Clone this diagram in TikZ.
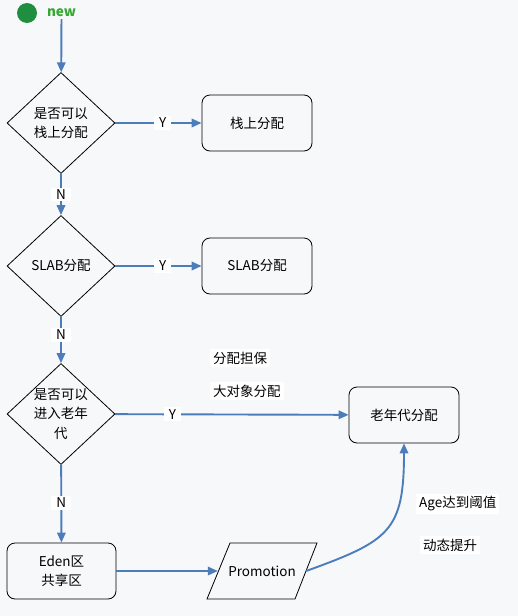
\documentclass[tikz,border=0pt]{standalone}
\usepackage{fontspec}
\newfontfamily\cjk{Noto Sans CJK SC}
\usetikzlibrary{shapes.geometric,arrows.meta}
\definecolor{bgpaper}{RGB}{247,248,250}
\definecolor{flowblue}{RGB}{77,124,186}
\definecolor{startgreen}{RGB}{31,143,63}
\definecolor{newgreen}{RGB}{54,168,50}
\tikzset{
  every node/.style={font=\cjk\fontsize{13.5}{19.5}\selectfont},
  decision/.style={diamond, draw, line width=0.8pt, inner sep=0pt,
    minimum width=108pt, minimum height=101pt, align=center},
  action/.style={rectangle, rounded corners=8pt, draw, line width=0.8pt,
    minimum width=110pt, minimum height=56pt, align=center},
  flow/.style={draw=flowblue, line width=1.9pt,
    -{Triangle[length=10pt,width=8.5pt]}},
  yn/.style={fill=white, inner xsep=5pt, inner ysep=2pt},
  note/.style={fill=white, inner sep=3pt, anchor=west}
}
\begin{document}
\begin{tikzpicture}[x=1pt,y=1pt]
    \path[fill=bgpaper,use as bounding box] (0,0) rectangle (518,-616);
    \node[circle, fill=startgreen, minimum size=20pt, inner sep=0pt] (start) at (27,-13) {};
    \node[text=newgreen, font=\cjk\bfseries\fontsize{13.5}{16}\selectfont, inner sep=2pt] (new) at (61.5,-13) {new};
    \node[decision] (q1) at (61,-123) {是否可以\\栈上分配};
    \node[action] (stack) at (257,-123) {栈上分配};
    \node[decision] (q2) at (61,-266) {SLAB分配};
    \node[action] (slab) at (257,-266) {SLAB分配};
    \node[decision, label={[align=center]center:{是否可以\\进入老年\\代}}] (q3) at (61,-414) {};
    \node[action] (old) at (404,-415) {老年代分配};
    \node[action, minimum width=109pt] (eden) at (61.5,-571) {Eden区\\共享区};
    \node[minimum width=88pt, minimum height=56pt, inner sep=0pt] (promo) at (262,-571) {Promotion};
    \draw[line width=0.8pt] (promo.center) ++(-55,-28) -- ++(88,0) -- ++(22,56)
      -- ++(-87,0) -- cycle;
    \node[note] (guarantee) at (210,-358) {分配担保};
    \node[note] (bigobj) at (210,-391) {大对象分配};
    \node[note] (agemax) at (416,-504) {Age达到阈值};
    \node[note] (dynamic) at (420,-545) {动态提升};
    \draw[flow] (new) -- (q1);
    \draw[flow] (q1) -- node[yn, pos=0.55] {Y} (stack);
    \draw[flow] (q1) -- node[yn] {N} (q2);
    \draw[flow] (q2) -- node[yn, pos=0.55] {Y} (slab);
    \draw[flow] (q2) -- node[yn, pos=0.39] {N} (q3);
    \draw[flow] (q3) -- node[yn, pos=0.245] {Y} (old);
    \draw[flow] (q3) -- node[yn, pos=0.49] {N} (eden);
    \draw[flow] (eden) -- (promo);
    \draw[flow] (promo.east) to [out=20,in=-90,looseness=1.4] (old.south);
\end{tikzpicture}
\end{document}
